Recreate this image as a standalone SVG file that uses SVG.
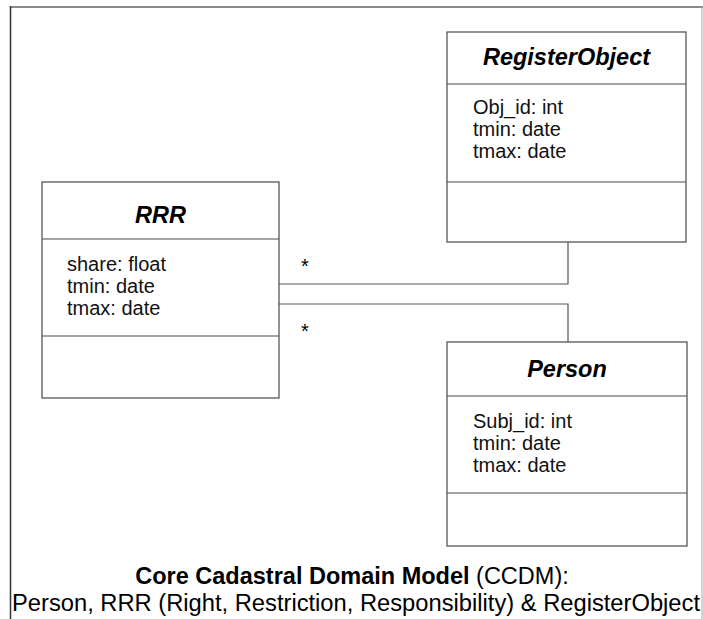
<svg xmlns="http://www.w3.org/2000/svg" width="703" height="619" viewBox="0 0 703 619">
<style>
.box{fill:#fff;stroke:#4a4a4a;stroke-width:1.2}
.div{stroke:#4a4a4a;stroke-width:1.2}
.title{font-family:"Liberation Sans",Arial,sans-serif;font-size:23.5px;font-weight:bold;font-style:italic;text-anchor:middle;fill:#000}
.attr{font-family:"Liberation Sans",Arial,sans-serif;font-size:20px;fill:#111}
.conn{fill:none;stroke:#555;stroke-width:1.2}
.mult{font-family:"Liberation Sans",Arial,sans-serif;font-size:20px;fill:#000}
.cap{font-family:"Liberation Sans",Arial,sans-serif;fill:#000}
</style>
<rect width="703" height="619" fill="#fff"/>
<g id="frame">
<line x1="10" y1="7" x2="703" y2="7" stroke="#8a8a8a" stroke-width="2"/>
<line x1="10.5" y1="6" x2="10.5" y2="619" stroke="#333" stroke-width="1.5"/>
<line x1="702" y1="7" x2="702" y2="619" stroke="#aaa" stroke-width="1"/>
</g>
<g id="connectors">
<polyline class="conn" points="279,284 568,284 568,242"/>
<polyline class="conn" points="279,304 568,304 568,342"/>
<text class="mult" x="301" y="273">*</text>
<text class="mult" x="301" y="338">*</text>
</g>
<g id="RRR">
<rect class="box" x="42" y="182" width="237" height="216"/>
<line class="div" x1="42" y1="239" x2="279" y2="239"/>
<line class="div" x1="42" y1="336" x2="279" y2="336"/>
<text class="title" x="160.5" y="223" font-size="25">RRR</text>
<text class="attr" x="67" y="271">share: float</text>
<text class="attr" x="67" y="293">tmin: date</text>
<text class="attr" x="67" y="315">tmax: date</text>
</g>
<g id="RegisterObject">
<rect class="box" x="447" y="32" width="239" height="210"/>
<line class="div" x1="447" y1="84" x2="686" y2="84"/>
<line class="div" x1="447" y1="182" x2="686" y2="182"/>
<text class="title" x="566.5" y="65">RegisterObject</text>
<text class="attr" x="473" y="114">Obj_id: int</text>
<text class="attr" x="473" y="136">tmin: date</text>
<text class="attr" x="473" y="158">tmax: date</text>
</g>
<g id="Person">
<rect class="box" x="447" y="342" width="240" height="204"/>
<line class="div" x1="447" y1="396" x2="687" y2="396"/>
<line class="div" x1="447" y1="493" x2="687" y2="493"/>
<text class="title" x="567" y="377">Person</text>
<text class="attr" x="473" y="428">Subj_id: int</text>
<text class="attr" x="473" y="450">tmin: date</text>
<text class="attr" x="473" y="472">tmax: date</text>
</g>
<g id="caption">
<text class="cap" x="352" y="584" text-anchor="middle" font-size="23.5"><tspan font-weight="bold">Core Cadastral Domain Model</tspan> (CCDM):</text>
<text class="cap" x="12" y="611" font-size="23" textLength="688" lengthAdjust="spacingAndGlyphs">Person, RRR (Right, Restriction, Responsibility) &amp; RegisterObject</text>
</g>
</svg>
